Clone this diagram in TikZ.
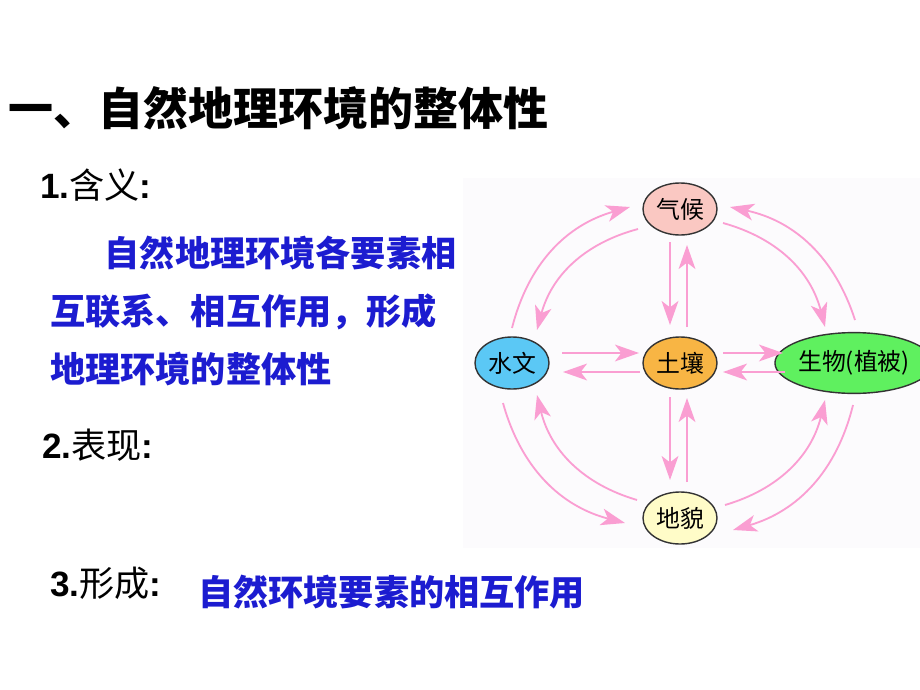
\documentclass[tikz,border=0pt]{standalone}
\usepackage{fontspec}
\setmainfont{Liberation Sans}
\newfontfamily\cjk{Noto Sans CJK SC}
\usetikzlibrary{shapes.geometric, arrows.meta, calc}
\definecolor{LinkPink}{HTML}{FA9ED2}
\definecolor{DeepBlue}{HTML}{1C1CD0}
\definecolor{EdgeGray}{HTML}{333333}
\definecolor{PanelTint}{HTML}{FCFBFD}
\definecolor{ClimateFill}{HTML}{FAC8C2}
\definecolor{WaterFill}{HTML}{5BC8F5}
\definecolor{SoilFill}{HTML}{F8B544}
\definecolor{LifeFill}{HTML}{5FF05F}
\definecolor{LandFill}{HTML}{FFFCC8}
\newcommand{\numlabel}[2]{{\bfseries #1.}{\cjk #2}{\bfseries :}}

\tikzset{
    elem/.style={ellipse, draw=EdgeGray, line width=1pt, inner sep=0pt,
                 minimum width=1.85cm, minimum height=1.3cm,
                 font=\cjk\fontsize{17}{17}\selectfont},
    link/.style={draw=LinkPink, line width=1.3pt,
                 -{Stealth[length=0.6cm, width=0.42cm, inset=0.16cm]}},
}

\begin{document}
\begin{tikzpicture}[x=0.025cm, y=-0.025cm]
    \useasboundingbox (0,0) rectangle (920,690);

    % Title
    \node[anchor=west, inner sep=0pt, font=\cjk\bfseries\fontsize{32}{32}\selectfont] (title) at (8,108) {一、自然地理环境的整体性};

    % Left column
    \node[anchor=west, inner sep=0pt, font=\fontsize{25}{25}\selectfont] (meaning) at (40,185) {\numlabel{1}{含义}};
    \node[anchor=west, inner sep=0pt, align=left, text=DeepBlue,
          font=\cjk\bfseries\fontsize{25}{41}\selectfont] (meaningtxt) at (50,311)
          {\hspace{1.55em}自然地理环境各要素相\\互联系、相互作用，形成\\地理环境的整体性};
    \node[anchor=west, inner sep=0pt, font=\fontsize{25}{25}\selectfont] (show) at (42,445) {\numlabel{2}{表现}};
    \node[anchor=west, inner sep=0pt, font=\fontsize{25}{25}\selectfont] (form) at (50,583) {\numlabel{3}{形成}};
    \node[anchor=west, inner sep=0pt, text=DeepBlue,
          font=\cjk\bfseries\fontsize{25}{25}\selectfont] (formtxt) at (198,592) {自然环境要素的相互作用};

    % Diagram panel
    \fill[PanelTint] (463,178) rectangle (920,548);

    % Elements
    \node[elem, fill=ClimateFill] (qh) at (680,209) {气候};
    \node[elem, fill=WaterFill]   (sw) at (512,363) {水文};
    \node[elem, fill=SoilFill]    (tr) at (680,363) {土壤};
    \node[elem, fill=LifeFill, minimum width=3.1cm, minimum height=1.52cm] (sb) at (854,363) {生物(植被)};
    \node[elem, fill=LandFill]    (dm) at (680,518) {地貌};

    % Outer ring
    \draw[link] ($(sw)+(0,-35)$)  to[bend left=30]  ($(qh)+(-50,-2)$);
    \draw[link] ($(qh)+(-42,20)$) to[bend right=30] ($(sw)+(25,-33)$);
    \draw[link] ($(qh)+(43,14)$)  to[bend left=30]  ($(sb)+(-29,-36)$);
    \draw[link] ($(sb)+(1,-43)$)  to[bend right=30] ($(qh)+(50,-2)$);
    \draw[link] ($(sw)+(-9,40)$)  to[bend right=30] ($(dm)+(-55,5)$);
    \draw[link] ($(dm)+(-43,-18)$) to[bend left=30] ($(sw)+(25,32)$);
    \draw[link] ($(dm)+(45,-13)$) to[bend right=30] ($(sb)+(-29,37)$);
    \draw[link] ($(sb)+(-1,42)$)  to[bend left=30]  ($(dm)+(53,12)$);

    % Cross through soil
    \draw[link] ($(qh)+(-10,33)$) -- ($(tr)+(-10,-38)$);
    \draw[link] ($(tr)+(7,-36)$)  -- ($(qh)+(7,36)$);
    \draw[link] ($(tr)+(-10,34)$) -- ($(dm)+(-10,-38)$);
    \draw[link] ($(dm)+(7,-36)$)  -- ($(tr)+(7,35)$);
    \draw[link] ($(sw)+(50,-10)$) -- ($(tr)+(-41,-10)$);
    \draw[link] ($(tr)+(-40,9)$)  -- ($(sw)+(51,9)$);
    \draw[link] ($(tr)+(43,-10)$) -- ($(sb)+(-71,-10)$);
    \draw[link] ($(sb)+(-69,9)$)  -- ($(tr)+(43,9)$);
\end{tikzpicture}
\end{document}
